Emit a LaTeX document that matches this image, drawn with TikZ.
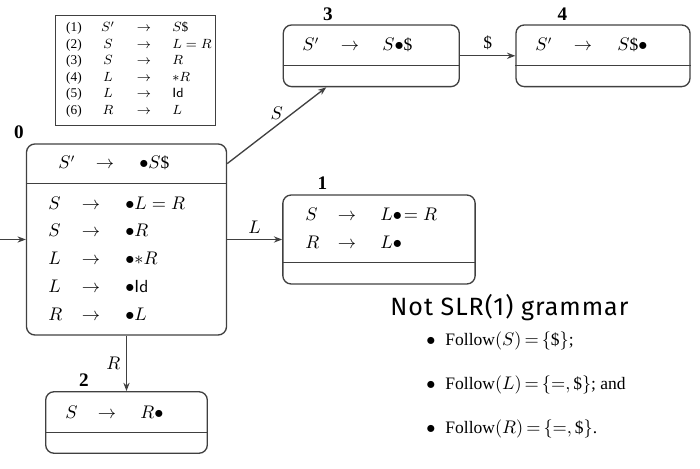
\documentclass[tikz,border=0pt]{standalone}
\usepackage{fontspec}
\setmainfont{Liberation Serif}
\newfontfamily\handfont{Fira Sans}[LetterSpace=4]
\usetikzlibrary{arrows.meta}

\newcommand{\itemfont}{\fontsize{10.5}{13}\selectfont}
\newcommand{\dol}{\mbox{\$}}
\newcommand{\dt}{\mathord{\bullet}}

\tikzset{
  state/.style={draw=black!75, line width=0.8pt, rounded corners=5pt, inner sep=0pt},
  divider/.style={draw=black!75, line width=0.8pt},
  item/.style={inner sep=0pt, anchor=mid west, font=\itemfont},
  arr/.style={inner sep=0pt, anchor=mid, font=\itemfont},
  num/.style={font=\bfseries\fontsize{11.5}{14}\selectfont},
  lbl/.style={font=\itemfont},
  edge/.style={draw=black!75, line width=0.8pt, -{Stealth[length=5pt]}},
  gram/.style={inner sep=0pt, font=\footnotesize},
  follow/.style={anchor=west, inner sep=0pt, font=\fontsize{10.5}{13}\selectfont}
}

\begin{document}
\begin{tikzpicture}[x=0.6pt, y=-0.6pt]
  \useasboundingbox (0,0) rectangle (700,469);

  % grammar table
  \node[draw=black!75, line width=0.5pt, minimum width=96pt, minimum height=66pt] (grammar) at (135,70) {};
  \foreach \lhs/\rhs [count=\i] in {S'/S\dol, S/L = R, S/R, L/*R, L/\textsf{Id}, R/L} {
    \node[gram, anchor=mid] (gnum\i) at (74, 11.5+16.45*\i) {(\i)};
    \node[gram, anchor=mid] (glhs\i) at (108, 11.5+16.45*\i) {$\lhs$};
    \node[gram, anchor=mid] (garr\i) at (144, 11.5+16.45*\i) {$\rightarrow$};
    \node[gram, anchor=mid west] (grhs\i) at (172, 11.5+16.45*\i) {$\rhs$};
  }

  % state 0
  \node[state, minimum width=120pt, minimum height=114.6pt] (s0) at (126.5,239.5) {};
  \node[num] (n0) at (19,132) {0};
  \node[item] (h0l) at (58,165) {$S'$};
  \node[arr] (h0a) at (105,165) {$\rightarrow$};
  \node[item] (h0r) at (139,165) {$\dt S\dol$};
  \draw[divider] (s0.west |- 0,183.3) -- (s0.east |- 0,183.3);
  \foreach \lhs/\rhs [count=\i] in {S/\dt L = R, S/\dt R, L/\dt{*}R, L/\dt\textsf{Id}, R/\dt L} {
    \node[item] (a0\i) at (48, 177.5+27.8*\i) {$\lhs$};
    \node[arr] (b0\i) at (91, 177.5+27.8*\i) {$\rightarrow$};
    \node[item] (c0\i) at (125, 177.5+27.8*\i) {$\rhs$};
  }

  % state 1
  \node[state, minimum width=115.4pt, minimum height=53.4pt] (s1) at (379,239.5) {};
  \node[num] (n1) at (322.5,183) {1};
  \node[item] (a11) at (305,217) {$S$};
  \node[arr] (b11) at (347,217) {$\rightarrow$};
  \node[item] (c11) at (380,217) {$L\dt\!= R$};
  \node[item] (a12) at (305,245) {$R$};
  \node[arr] (b12) at (347,245) {$\rightarrow$};
  \node[item] (c12) at (380,245) {$L\dt$};
  \draw[divider] (s1.west |- 0,262.7) -- (s1.east |- 0,262.7);

  % state 2
  \node[state, minimum width=97pt, minimum height=36.9pt] (s2) at (126.5,422.5) {};
  \node[num] (n2) at (84,380) {2};
  \node[item] (a21) at (65,415) {$S$};
  \node[arr] (b21) at (107,415) {$\rightarrow$};
  \node[item] (c21) at (140,415) {$R\dt$};
  \draw[divider] (s2.west |- 0,432.7) -- (s2.east |- 0,432.7);

  % state 3
  \node[state, minimum width=105.6pt, minimum height=37pt] (s3) at (371.3,55.8) {};
  \node[num] (n3) at (328,14) {3};
  \node[item] (a31) at (302,47) {$S'$};
  \node[arr] (b31) at (350,47) {$\rightarrow$};
  \node[item] (c31) at (382,47) {$S\dt\dol$};
  \draw[divider] (s3.west |- 0,65.7) -- (s3.east |- 0,65.7);

  % state 4
  \node[state, minimum width=104.4pt, minimum height=37pt] (s4) at (603,55.8) {};
  \node[num] (n4) at (562.5,14) {4};
  \node[item] (a41) at (535,47) {$S'$};
  \node[arr] (b41) at (583,47) {$\rightarrow$};
  \node[item] (c41) at (617,47) {$S\dol\dt$};
  \draw[divider] (s4.west |- 0,65.7) -- (s4.east |- 0,65.7);

  % transitions
  \coordinate (entry) at (0,239.5);
  \draw[edge] (entry) -- (s0.west);
  \draw[edge] (s0.37) -- (s3.215.5) node[lbl, midway, above] {$S$};
  \draw[edge] (s0.east) -- (s1.west) node[lbl, midway, above] {$L$};
  \draw[edge] (s3.east) -- (s4.west) node[lbl, midway, above] {\dol};
  \draw[edge] (s0.south) -- (s2.north) node[lbl, midway, left] {$R$};

  % note
  \node[anchor=base west, inner sep=0pt, font=\handfont\fontsize{15}{17}\selectfont] (note) at (390,316) {Not SLR(1) grammar};
  \node[follow] (f1) at (426,341) {$\bullet$\hspace{6pt}Follow$(S)\,{=}\,\{\dol\}$;};
  \node[follow] (f2) at (426,385) {$\bullet$\hspace{6pt}Follow$(L)\,{=}\,\{=,\dol\}$; and};
  \node[follow] (f3) at (426,429) {$\bullet$\hspace{6pt}Follow$(R)\,{=}\,\{=,\dol\}$.};
\end{tikzpicture}
\end{document}
